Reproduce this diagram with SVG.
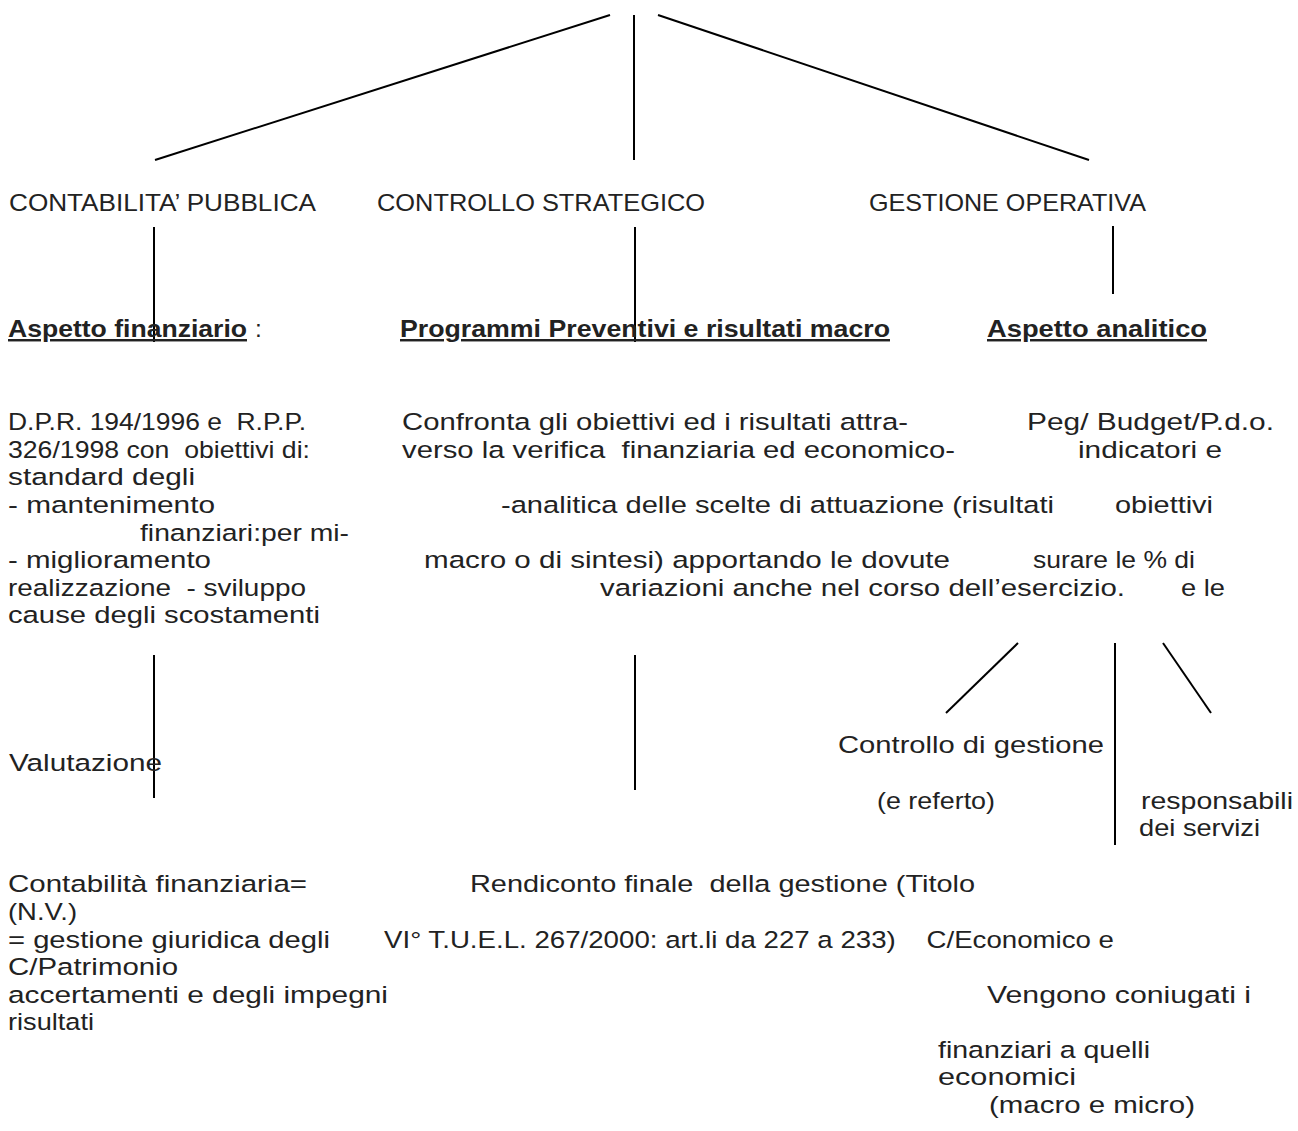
<svg xmlns="http://www.w3.org/2000/svg" width="1298" height="1131" viewBox="0 0 1298 1131">
<style>
text{font-family:"Liberation Sans",Arial,sans-serif;font-size:24.5px;fill:#222;white-space:pre}
.h{font-weight:bold;text-decoration:underline}
line{stroke:#000;stroke-width:2}
</style>
<rect width="1298" height="1131" fill="#fff"/>
<g id="connectors">
<line x1="610" y1="15" x2="155" y2="160"/>
<line x1="634" y1="15" x2="634" y2="160" stroke-width="1.5"/>
<line x1="658" y1="15" x2="1089" y2="160"/>
<line x1="154" y1="227" x2="154" y2="342"/>
<line x1="635" y1="227" x2="635" y2="342"/>
<line x1="1113" y1="226" x2="1113" y2="294"/>
<line x1="154" y1="655" x2="154" y2="798"/>
<line x1="635" y1="655" x2="635" y2="790"/>
<line x1="1018" y1="643" x2="946" y2="713"/>
<line x1="1115" y1="643" x2="1115" y2="845"/>
<line x1="1163" y1="643" x2="1211" y2="713"/>
</g>
<g id="contabilita">
<text x="9" y="211" textLength="307" lengthAdjust="spacingAndGlyphs">CONTABILITA’ PUBBLICA</text>
</g>
<g id="controllo-strategico">
<text x="377" y="211" textLength="328" lengthAdjust="spacingAndGlyphs">CONTROLLO STRATEGICO</text>
</g>
<g id="gestione-operativa">
<text x="869" y="211" textLength="277" lengthAdjust="spacingAndGlyphs">GESTIONE OPERATIVA</text>
</g>
<g id="aspetto-finanziario">
<text class="h" x="8" y="337" textLength="239" lengthAdjust="spacingAndGlyphs">Aspetto finanziario</text>
<text x="255" y="337">:</text>
<text x="8" y="430" textLength="298" lengthAdjust="spacingAndGlyphs">D.P.R. 194/1996 e  R.P.P.</text>
<text x="8" y="458" textLength="302" lengthAdjust="spacingAndGlyphs">326/1998 con  obiettivi di:</text>
<text x="8" y="485" textLength="187" lengthAdjust="spacingAndGlyphs">standard degli</text>
<text x="8" y="513" textLength="207" lengthAdjust="spacingAndGlyphs">- mantenimento</text>
<text x="140" y="541" textLength="209" lengthAdjust="spacingAndGlyphs">finanziari:per mi-</text>
<text x="8" y="568" textLength="203" lengthAdjust="spacingAndGlyphs">- miglioramento</text>
<text x="8" y="596" textLength="298" lengthAdjust="spacingAndGlyphs">realizzazione  - sviluppo</text>
<text x="8" y="623" textLength="312" lengthAdjust="spacingAndGlyphs">cause degli scostamenti</text>
</g>
<g id="programmi">
<text class="h" x="400" y="337" textLength="490" lengthAdjust="spacingAndGlyphs">Programmi Preventivi e risultati macro</text>
<text x="402" y="430" textLength="506" lengthAdjust="spacingAndGlyphs">Confronta gli obiettivi ed i risultati attra-</text>
<text x="402" y="458" textLength="553" lengthAdjust="spacingAndGlyphs">verso la verifica  finanziaria ed economico-</text>
<text x="501" y="513" textLength="553" lengthAdjust="spacingAndGlyphs">-analitica delle scelte di attuazione (risultati</text>
<text x="424" y="568" textLength="526" lengthAdjust="spacingAndGlyphs">macro o di sintesi) apportando le dovute</text>
<text x="600" y="596" textLength="525" lengthAdjust="spacingAndGlyphs">variazioni anche nel corso dell’esercizio.</text>
</g>
<g id="aspetto-analitico">
<text class="h" x="987" y="337" textLength="220" lengthAdjust="spacingAndGlyphs">Aspetto analitico</text>
<text x="1027" y="430" textLength="247" lengthAdjust="spacingAndGlyphs">Peg/ Budget/P.d.o.</text>
<text x="1078" y="458" textLength="144" lengthAdjust="spacingAndGlyphs">indicatori e</text>
<text x="1115" y="513" textLength="98" lengthAdjust="spacingAndGlyphs">obiettivi</text>
<text x="1033" y="568" textLength="162" lengthAdjust="spacingAndGlyphs">surare le % di</text>
<text x="1181" y="596" textLength="44" lengthAdjust="spacingAndGlyphs">e le</text>
</g>
<g id="valutazione">
<text x="9" y="771" textLength="153" lengthAdjust="spacingAndGlyphs">Valutazione</text>
</g>
<g id="controllo-gestione">
<text x="838" y="753" textLength="266" lengthAdjust="spacingAndGlyphs">Controllo di gestione</text>
<text x="877" y="809" textLength="118" lengthAdjust="spacingAndGlyphs">(e referto)</text>
</g>
<g id="responsabili">
<text x="1141" y="809" textLength="152" lengthAdjust="spacingAndGlyphs">responsabili</text>
<text x="1139" y="836" textLength="121" lengthAdjust="spacingAndGlyphs">dei servizi</text>
</g>
<g id="contabilita-finanziaria">
<text x="8" y="892" textLength="299" lengthAdjust="spacingAndGlyphs">Contabilità finanziaria=</text>
<text x="8" y="920" textLength="69" lengthAdjust="spacingAndGlyphs">(N.V.)</text>
<text x="8" y="948" textLength="322" lengthAdjust="spacingAndGlyphs">= gestione giuridica degli</text>
<text x="8" y="975" textLength="170" lengthAdjust="spacingAndGlyphs">C/Patrimonio</text>
<text x="8" y="1003" textLength="380" lengthAdjust="spacingAndGlyphs">accertamenti e degli impegni</text>
<text x="8" y="1030" textLength="86" lengthAdjust="spacingAndGlyphs">risultati</text>
</g>
<g id="rendiconto">
<text x="470" y="892" textLength="505" lengthAdjust="spacingAndGlyphs">Rendiconto finale  della gestione (Titolo</text>
<text x="384" y="948" textLength="730" lengthAdjust="spacingAndGlyphs">VI° T.U.E.L. 267/2000: art.li da 227 a 233)    C/Economico e</text>
</g>
<g id="coniugati">
<text x="987" y="1003" textLength="264" lengthAdjust="spacingAndGlyphs">Vengono coniugati i</text>
<text x="938" y="1058" textLength="212" lengthAdjust="spacingAndGlyphs">finanziari a quelli</text>
<text x="938" y="1085" textLength="138" lengthAdjust="spacingAndGlyphs">economici</text>
<text x="989" y="1113" textLength="206" lengthAdjust="spacingAndGlyphs">(macro e micro)</text>
</g>
</svg>
